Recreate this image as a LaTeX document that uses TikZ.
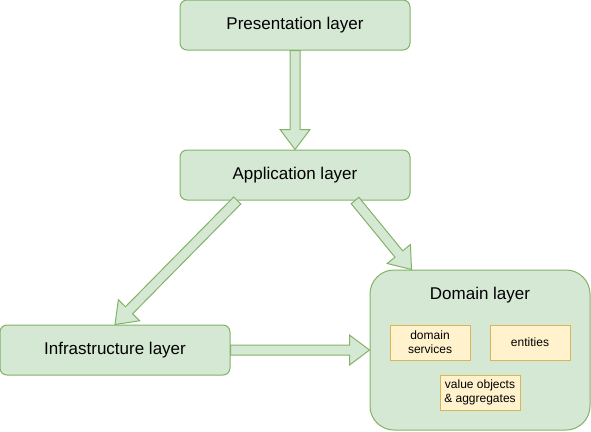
\documentclass[tikz,border=0pt]{standalone}
\usepackage{fontspec}
\setmainfont{Liberation Sans}
\usetikzlibrary{calc}
\definecolor{gfill}{HTML}{D5E8D4}
\definecolor{gline}{HTML}{82B366}
\definecolor{yfill}{HTML}{FFF2CC}
\definecolor{yline}{HTML}{D6B656}
\tikzset{
  layer/.style={draw=gline, fill=gfill, line width=1pt, rounded corners=7pt,
    minimum width=230pt, minimum height=50pt, inner sep=0pt,
    font=\fontsize{17}{20}\selectfont},
  part/.style={draw=yline, fill=yfill, line width=1pt,
    minimum width=80pt, minimum height=35pt, inner sep=0pt, align=center,
    font=\fontsize{12}{14}\selectfont},
  fatarrow/.style={draw=gline, fill=gfill, line width=1pt, line join=miter},
  plain/.style={inner sep=0pt}
}
\newcommand{\fatarr}[2]{%
  \path ($(#2)!20pt!(#1)$) coordinate (h);
  \filldraw[fatarrow] ($(#1)!5pt!-90:(#2)$) -- ($(h)!5pt!90:(#1)$) -- ($(h)!15pt!90:(#1)$) -- (#2)
    -- ($(h)!15pt!-90:(#1)$) -- ($(h)!5pt!-90:(#1)$) -- ($(#1)!5pt!90:(#2)$) -- cycle;}
\begin{document}
\begin{tikzpicture}[x=1pt,y=-1pt]
\useasboundingbox (0,0) rectangle (591,431);
\node[layer] (pres) at (295,25) {Presentation layer};
\node[layer] (app) at (295,175) {Application layer};
\node[layer] (infra) at (115,350) {Infrastructure layer};
\node[draw=gline, fill=gfill, line width=1pt, rounded corners=24pt,
  minimum width=220pt, minimum height=160pt, inner sep=0pt] (dom) at (480,350) {};
\node[plain, font=\fontsize{17}{20}\selectfont] (domlabel) at (480,295) {Domain layer};
\node[part] (dserv) at (430,342.5) {domain\\services};
\node[part] (ent) at (530,342.5) {entities};
\node[part] (vo) at (480,392.5) {value objects\\\& aggregates};
\coordinate (a1s) at ($(app.south west)!0.25!(app.south east)$);
\coordinate (a2s) at ($(app.south west)!0.76!(app.south east)$);
\coordinate (a2e) at ($(dom.north west)!0.19!(dom.north east)$);
\fatarr{pres.south}{app.north}
\fatarr{a1s}{infra.north}
\fatarr{a2s}{a2e}
\fatarr{infra.east}{dom.west}
\end{tikzpicture}
\end{document}
